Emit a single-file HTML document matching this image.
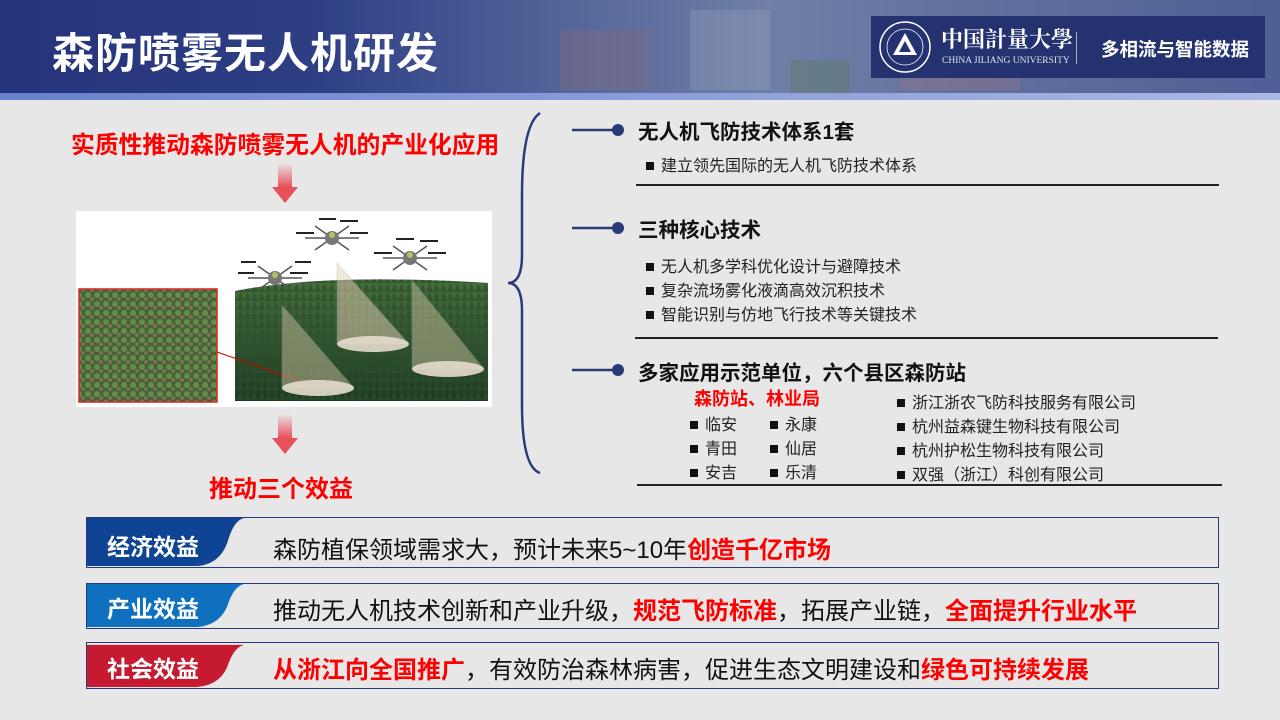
<!DOCTYPE html>
<html><head><meta charset="utf-8">
<style>
*{margin:0;padding:0;box-sizing:border-box}
body{width:1280px;height:720px;overflow:hidden;background:#e7e7e7;font-family:"Liberation Sans","Noto Sans CJK SC",sans-serif;position:relative}
.abs{position:absolute;white-space:nowrap}
.hdr{left:0;top:0;width:1280px;height:93px;background:linear-gradient(90deg,#25337a 0%,#2e3f86 25%,#55679a 45%,#6f7fa6 60%,#5d6e9c 80%,#4d5f95 100%)}
.band{left:0;top:93px;width:1280px;height:7px;background:linear-gradient(90deg,#6b80cc,#a9b8e6)}
.title{left:52px;top:20px;font-size:42px;font-weight:bold;color:#fff;letter-spacing:1px}
.logo{left:871px;top:16px;width:394px;height:62px;background:#253270}
.red{color:#f00;font-weight:bold}
.h{font-size:20.5px;font-weight:bold;color:#111}
.it{font-size:16px;color:#222}
.sq{display:inline-block;width:8px;height:8px;background:#111;margin-right:7px;vertical-align:1px}
.row{left:86px;width:1133px;border:1.5px solid #233a80;background:#e7e7e7}
.tab{position:absolute;left:0;top:0;height:100%}
.tabt{position:absolute;left:20px;font-size:23px;font-weight:bold;color:#fff}
.rt{position:absolute;left:186px;font-size:24px;color:#111}
.rt b{color:#f00}
</style></head><body>
<div class="abs hdr"></div>
<svg class="abs" style="left:540px;top:0" width="700" height="93">
<rect x="20" y="30" width="90" height="60" fill="#8a6a78" opacity=".35"/>
<rect x="150" y="10" width="80" height="80" fill="#9aa4c0" opacity=".3"/>
<rect x="360" y="40" width="120" height="50" fill="#a07080" opacity=".35"/>
<rect x="250" y="60" width="60" height="33" fill="#5a7a5a" opacity=".35"/>
</svg>
<div class="abs band"></div>
<div class="abs title">森防喷雾无人机研发</div>
<div class="abs logo">
<svg class="abs" style="left:4px;top:3px" width="60" height="56"><circle cx="30" cy="28" r="25" fill="none" stroke="#fff" stroke-width="1.5"/><circle cx="30" cy="28" r="18" fill="none" stroke="#fff" stroke-width=".8"/><polygon points="30,14 18,36 42,36" fill="#fff"/><polygon points="30,22 24,33 36,33" fill="#253270"/></svg>
<div class="abs" style="left:70px;top:7px;font-size:22px;color:#fff;font-family:'Noto Serif CJK SC',serif;font-weight:bold;letter-spacing:0px">中国計量大學</div>
<div class="abs" style="left:71px;top:40px;font-size:9.5px;color:#dfe3f0;font-family:'Liberation Serif',serif">CHINA JILIANG UNIVERSITY</div>
<div class="abs" style="left:205px;top:16px;width:1px;height:32px;background:#aab"></div>
<div class="abs" style="left:230px;top:20px;font-size:18.5px;font-weight:bold;color:#fff">多相流与智能数据</div>
</div>

<div class="abs red" style="left:71px;top:125px;font-size:23.8px">实质性推动森防喷雾无人机的产业化应用</div>
<svg class="abs" style="left:270px;top:163px" width="30" height="42"><defs><linearGradient id="ar" x1="0" y1="0" x2="0" y2="1"><stop offset="0" stop-color="#e7e7e7"/><stop offset="1" stop-color="#e8505a"/></linearGradient></defs><rect x="8" y="0" width="14" height="24" fill="url(#ar)"/><polygon points="2,24 28,24 15,40" fill="#e8505a"/></svg>
<svg class="abs" style="left:270px;top:414px" width="30" height="42"><rect x="8" y="0" width="14" height="24" fill="url(#ar)"/><polygon points="2,24 28,24 15,40" fill="#e8505a"/></svg>
<div class="abs red" style="left:209px;top:469px;font-size:24px">推动三个效益</div>

<svg class="abs" style="left:76px;top:211px" width="416" height="196">
<defs><linearGradient id="fg" x1="0" y1="0" x2="0" y2="1"><stop offset="0" stop-color="#466e3c"/><stop offset="1" stop-color="#1d3a20"/></linearGradient>
<pattern id="tr" width="7" height="9" patternUnits="userSpaceOnUse"><path d="M3.5,0 L7,9 L0,9 Z" fill="#2b4f2c" opacity=".7"/></pattern>
<pattern id="tr2" width="9" height="9" patternUnits="userSpaceOnUse"><rect width="9" height="9" fill="#3f6637"/><circle cx="3" cy="3" r="3" fill="#6a8a4a"/><circle cx="7" cy="7" r="2" fill="#8a6a58"/></pattern></defs>
<rect width="416" height="196" fill="#fff"/>
<path d="M159,80 Q250,62 412,72 L412,190 L159,190 Z" fill="url(#fg)"/>
<path d="M159,80 Q250,62 412,72 L412,190 L159,190 Z" fill="url(#tr)"/>
<rect x="3" y="78" width="138" height="113" fill="url(#tr2)" stroke="#d22" stroke-width="1.5"/>
<line x1="141" y1="141" x2="224" y2="170" stroke="#c00" stroke-width="1"/>
<polygon points="206,94 206,177 278,177" fill="#d8c8a8" opacity=".45" stroke="#9ab" stroke-width=".6"/>
<polygon points="261,52 261,133 333,133" fill="#e8d0b8" opacity=".5" stroke="#9ab" stroke-width=".6"/>
<polygon points="336,69 336,158 408,158" fill="#d8c8a8" opacity=".45" stroke="#9ab" stroke-width=".6"/>
<ellipse cx="242" cy="177" rx="36" ry="8" fill="#e6dccc" opacity=".9"/>
<ellipse cx="297" cy="133" rx="36" ry="8" fill="#e6dccc" opacity=".9"/>
<ellipse cx="372" cy="158" rx="36" ry="8" fill="#e6dccc" opacity=".9"/>
<g stroke="#555" stroke-width="1.5" fill="none">
<path d="M172,67 L226,67 M182,55 L216,79 M216,55 L182,79"/>
<path d="M229,27 L283,27 M239,15 L273,39 M273,15 L239,39"/>
<path d="M307,47 L361,47 M317,35 L351,59 M351,35 L317,59"/>
</g>
<g stroke="#222" stroke-width="2"><path d="M162,62 L178,62 M214,62 L232,62 M219,51 L235,51 M165,51 L180,51"/><path d="M220,22 L238,22 M274,22 L292,22 M243,8 L260,8 M264,10 L282,10"/><path d="M298,42 L316,42 M352,42 L370,42 M320,28 L338,28 M344,30 L362,30"/></g>
<circle cx="199" cy="67" r="7" fill="#777"/><circle cx="256" cy="27" r="7" fill="#777"/><circle cx="334" cy="47" r="7" fill="#777"/>
<circle cx="199" cy="64" r="3" fill="#b8c060"/><circle cx="256" cy="24" r="3" fill="#b8c060"/><circle cx="334" cy="44" r="3" fill="#b8c060"/>
</svg>

<svg class="abs" style="left:500px;top:105px" width="130" height="380">
<path d="M40,8 Q22,20 22,90 L22,150 Q22,178 8,178 Q22,178 22,206 L22,300 Q22,362 40,368" fill="none" stroke="#283a78" stroke-width="2.5"/>
<g stroke="#283a78" stroke-width="2.5"><line x1="72" y1="25" x2="115" y2="25"/><line x1="72" y1="123" x2="115" y2="123"/><line x1="72" y1="265" x2="115" y2="265"/></g>
<g fill="#283a78"><circle cx="118" cy="25" r="6"/><circle cx="118" cy="123" r="6"/><circle cx="118" cy="265" r="6"/></g>
</svg>

<div class="abs h" style="left:638px;top:115px">无人机飞防技术体系1套</div>
<div class="abs it" style="left:646px;top:152px"><span class="sq"></span>建立领先国际的无人机飞防技术体系</div>
<div class="abs" style="left:636px;top:184px;width:583px;height:1.5px;background:#222"></div>
<div class="abs h" style="left:638px;top:213px">三种核心技术</div>
<div class="abs it" style="left:646px;top:253px"><span class="sq"></span>无人机多学科优化设计与避障技术</div>
<div class="abs it" style="left:646px;top:277px"><span class="sq"></span>复杂流场雾化液滴高效沉积技术</div>
<div class="abs it" style="left:646px;top:301px"><span class="sq"></span>智能识别与仿地飞行技术等关键技术</div>
<div class="abs" style="left:635px;top:337px;width:583px;height:1.5px;background:#222"></div>
<div class="abs h" style="left:638px;top:356px">多家应用示范单位，六个县区森防站</div>
<div class="abs red" style="left:694px;top:385px;font-size:18px">森防站、林业局</div>
<div class="abs it" style="left:690px;top:411px"><span class="sq"></span>临安</div>
<div class="abs it" style="left:690px;top:435px"><span class="sq"></span>青田</div>
<div class="abs it" style="left:690px;top:459px"><span class="sq"></span>安吉</div>
<div class="abs it" style="left:770px;top:411px"><span class="sq"></span>永康</div>
<div class="abs it" style="left:770px;top:435px"><span class="sq"></span>仙居</div>
<div class="abs it" style="left:770px;top:459px"><span class="sq"></span>乐清</div>
<div class="abs it" style="left:897px;top:389px"><span class="sq"></span>浙江浙农飞防科技服务有限公司</div>
<div class="abs it" style="left:897px;top:413px"><span class="sq"></span>杭州益森键生物科技有限公司</div>
<div class="abs it" style="left:897px;top:437px"><span class="sq"></span>杭州护松生物科技有限公司</div>
<div class="abs it" style="left:897px;top:461px"><span class="sq"></span>双强（浙江）科创有限公司</div>
<div class="abs" style="left:637px;top:484px;width:585px;height:1.5px;background:#222"></div>

<div class="abs row" style="top:517px;height:51px">
<svg class="tab" width="160" height="51" viewBox="0 0 160 51" preserveAspectRatio="none"><path d="M0,0 L157,0 Q148,2 142,20 Q135,48 110,50 L0,50 Z" fill="#0f4494"/></svg>
<div class="tabt" style="top:10px">经济效益</div>
<div class="rt" style="top:12px">森防植保领域需求大，预计未来5~10年<b>创造千亿市场</b></div>
</div>
<div class="abs row" style="top:583px;height:46px">
<svg class="tab" width="160" height="46" viewBox="0 0 160 46" preserveAspectRatio="none"><path d="M0,0 L157,0 Q148,2 142,18 Q135,43 110,45 L0,45 Z" fill="#0f70c0"/></svg>
<div class="tabt" style="top:6px">产业效益</div>
<div class="rt" style="top:7px">推动无人机技术创新和产业升级，<b>规范飞防标准</b>，拓展产业链，<b>全面提升行业水平</b></div>
</div>
<div class="abs row" style="top:642px;height:47px">
<svg class="tab" width="160" height="47" viewBox="0 0 160 47" preserveAspectRatio="none"><path d="M0,2 L157,2 Q148,4 142,20 Q135,44 110,46 L0,46 Z" fill="#c51a30"/></svg>
<div class="tabt" style="top:7px">社会效益</div>
<div class="rt" style="top:7px"><b>从浙江向全国推广</b>，有效防治森林病害，促进生态文明建设和<b>绿色可持续发展</b></div>
</div>
</body></html>
